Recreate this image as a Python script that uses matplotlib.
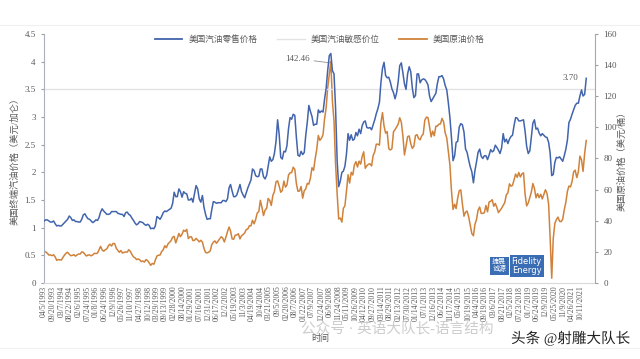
import matplotlib
matplotlib.use("Agg")
import matplotlib.pyplot as plt
import matplotlib.patheffects as pe
from matplotlib.lines import Line2D
import pandas as pd
import numpy as np

plt.rcParams['font.family'] = ['Liberation Serif', 'Noto Sans CJK SC', 'DejaVu Sans']

# monthly values, 1993-04 .. 2022-02
gasoline = [
    1.12, 1.14, 1.14, 1.12, 1.10, 1.10, 1.12, 1.07, 1.03,                  # 1993 (Apr-Dec)
    1.04, 1.03, 1.03, 1.06, 1.09, 1.12, 1.15, 1.21, 1.18, 1.13, 1.14, 1.11,  # 1994
    1.11, 1.10, 1.10, 1.15, 1.23, 1.25, 1.20, 1.16, 1.15, 1.12, 1.09, 1.11,  # 1995
    1.14, 1.13, 1.18, 1.28, 1.34, 1.30, 1.27, 1.24, 1.24, 1.25, 1.29, 1.29,  # 1996
    1.29, 1.29, 1.26, 1.25, 1.24, 1.24, 1.20, 1.27, 1.28, 1.24, 1.22, 1.17,  # 1997
    1.13, 1.08, 1.05, 1.07, 1.11, 1.10, 1.09, 1.06, 1.04, 1.06, 1.04, 0.98,  # 1998
    0.99, 0.98, 1.03, 1.20, 1.18, 1.15, 1.20, 1.27, 1.30, 1.29, 1.31, 1.33,  # 1999
    1.35, 1.44, 1.64, 1.56, 1.56, 1.70, 1.65, 1.55, 1.65, 1.62, 1.61, 1.50,  # 2000
    1.50, 1.53, 1.46, 1.62, 1.76, 1.70, 1.52, 1.46, 1.58, 1.37, 1.24, 1.15,  # 2001
    1.16, 1.16, 1.32, 1.47, 1.46, 1.44, 1.45, 1.45, 1.45, 1.49, 1.49, 1.47,  # 2002
    1.52, 1.72, 1.78, 1.66, 1.56, 1.56, 1.59, 1.68, 1.78, 1.65, 1.59, 1.54,  # 2003
    1.63, 1.72, 1.79, 1.86, 2.06, 2.03, 1.94, 1.92, 1.93, 2.06, 2.06, 1.92,  # 2004
    1.88, 1.95, 2.11, 2.28, 2.20, 2.23, 2.34, 2.56, 2.95, 2.69, 2.27, 2.24,  # 2005
    2.38, 2.37, 2.48, 2.79, 2.99, 2.96, 3.05, 3.03, 2.63, 2.31, 2.29, 2.38,  # 2006
    2.32, 2.36, 2.66, 2.91, 3.21, 3.10, 3.01, 2.85, 2.87, 2.87, 3.13, 3.08,  # 2007
    3.11, 3.09, 3.32, 3.52, 3.84, 4.11, 4.15, 3.84, 3.78, 3.17, 2.21, 1.74,  # 2008
    1.84, 2.00, 2.02, 2.11, 2.33, 2.70, 2.58, 2.68, 2.58, 2.60, 2.72, 2.66,  # 2009
    2.78, 2.70, 2.84, 2.91, 2.93, 2.81, 2.80, 2.81, 2.77, 2.86, 2.95, 3.06,  # 2010
    3.15, 3.27, 3.62, 3.88, 3.99, 3.75, 3.71, 3.72, 3.63, 3.51, 3.44, 3.33,  # 2011
    3.44, 3.65, 3.93, 3.98, 3.80, 3.60, 3.50, 3.78, 3.91, 3.82, 3.52, 3.35,  # 2012
    3.39, 3.78, 3.78, 3.62, 3.67, 3.69, 3.68, 3.64, 3.58, 3.38, 3.28, 3.33,  # 2013
    3.38, 3.43, 3.60, 3.73, 3.73, 3.75, 3.69, 3.57, 3.49, 3.26, 2.99, 2.63,  # 2014
    2.21, 2.30, 2.54, 2.56, 2.82, 2.88, 2.86, 2.73, 2.42, 2.36, 2.22, 2.10,  # 2015
    2.01, 1.81, 2.03, 2.19, 2.36, 2.42, 2.29, 2.25, 2.30, 2.30, 2.23, 2.31,  # 2016
    2.41, 2.37, 2.39, 2.49, 2.45, 2.40, 2.34, 2.44, 2.70, 2.55, 2.60, 2.52,  # 2017
    2.60, 2.65, 2.67, 2.85, 2.99, 2.98, 2.93, 2.93, 2.94, 2.95, 2.74, 2.47,  # 2018
    2.34, 2.39, 2.62, 2.89, 2.95, 2.78, 2.80, 2.71, 2.66, 2.70, 2.67, 2.64,  # 2019
    2.63, 2.54, 2.35, 1.94, 1.96, 2.18, 2.27, 2.26, 2.28, 2.24, 2.20, 2.30,  # 2020
    2.42, 2.59, 2.90, 2.96, 3.05, 3.13, 3.21, 3.25, 3.25, 3.38, 3.49, 3.38,  # 2021
    3.41, 3.70,                                                              # 2022 (Jan-Feb)
]

crude = [
    20.3, 19.9, 19.1, 17.9, 18.0, 17.5, 18.1, 16.7, 14.5,                  # 1993
    15.0, 14.8, 14.7, 16.4, 17.9, 19.1, 19.7, 18.4, 17.5, 17.7, 18.1, 17.2,  # 1994
    18.0, 18.6, 18.5, 19.9, 19.7, 18.4, 17.3, 17.9, 18.0, 17.4, 18.0, 19.0,  # 1995
    18.9, 19.1, 21.3, 23.5, 21.2, 20.4, 21.3, 21.9, 23.9, 24.9, 23.7, 25.4,  # 1996
    25.2, 22.2, 21.0, 19.7, 20.8, 19.2, 19.6, 19.9, 19.8, 21.3, 20.2, 18.3,  # 1997
    16.7, 16.1, 15.0, 15.4, 14.9, 13.7, 14.1, 13.4, 15.0, 14.4, 12.9, 11.3,  # 1998
    12.5, 12.0, 14.7, 17.3, 17.8, 17.9, 20.1, 21.3, 23.9, 22.6, 25.0, 26.1,  # 1999
    27.2, 29.4, 29.9, 25.7, 28.8, 31.8, 29.7, 31.3, 33.9, 33.1, 34.4, 28.5,  # 2000
    29.6, 29.6, 27.2, 27.4, 28.6, 27.6, 26.4, 27.4, 26.2, 22.2, 19.6, 19.3,  # 2001
    19.7, 20.7, 24.5, 26.2, 27.0, 25.5, 26.9, 28.4, 29.7, 28.8, 26.3, 29.4,  # 2002
    32.9, 35.9, 33.5, 28.3, 28.1, 30.7, 30.8, 31.6, 28.3, 30.3, 31.1, 32.1,  # 2003
    34.3, 34.7, 36.7, 36.7, 40.3, 38.0, 40.7, 44.9, 45.9, 53.1, 48.5, 43.3,  # 2004
    46.8, 48.0, 54.3, 53.0, 49.8, 56.3, 58.7, 65.0, 65.6, 62.3, 58.3, 59.4,  # 2005
    65.5, 61.6, 62.9, 69.4, 70.8, 70.9, 74.4, 73.0, 63.8, 58.9, 59.1, 62.0,  # 2006
    54.5, 59.3, 60.4, 64.0, 63.5, 67.5, 74.1, 72.4, 79.9, 85.8, 94.8, 91.7,  # 2007
    93.0, 95.4, 105.4, 112.6, 125.4, 133.9, 142.46, 116.7, 104.1, 76.6, 57.3, 41.1,  # 2008
    41.7, 39.1, 47.9, 49.6, 59.0, 69.6, 64.2, 71.1, 69.4, 75.7, 78.0, 74.5,  # 2009
    78.3, 76.4, 81.2, 84.3, 73.7, 75.3, 76.3, 76.6, 75.2, 81.9, 84.3, 89.2,  # 2010
    89.2, 88.6, 102.9, 109.5, 100.9, 96.3, 97.3, 86.3, 85.5, 86.3, 97.2, 98.6,  # 2011
    100.3, 102.2, 106.2, 103.3, 94.7, 82.3, 87.9, 94.1, 94.5, 89.5, 86.5, 87.9,  # 2012
    94.8, 95.3, 92.9, 92.0, 94.5, 95.8, 104.6, 106.6, 106.3, 100.5, 93.9, 97.6,  # 2013
    94.6, 100.8, 100.8, 102.1, 102.2, 105.8, 103.6, 96.5, 93.2, 84.4, 75.8, 59.3,  # 2014
    47.2, 50.6, 47.8, 54.5, 59.3, 59.8, 50.9, 42.9, 45.5, 46.2, 42.4, 37.2,  # 2015
    31.7, 30.3, 37.6, 40.8, 46.7, 48.8, 44.7, 44.7, 45.2, 49.8, 45.7, 52.0,  # 2016
    52.5, 53.5, 49.3, 51.1, 48.5, 45.2, 46.6, 48.0, 49.8, 51.6, 56.6, 57.9,  # 2017
    63.7, 62.2, 62.7, 66.3, 70.0, 67.9, 71.0, 68.1, 70.2, 70.8, 57.0, 49.5,  # 2018
    51.4, 55.0, 58.2, 63.9, 60.8, 54.7, 57.4, 54.8, 57.0, 54.0, 57.0, 59.9,  # 2019
    57.5, 50.5, 29.2, 3.0, 28.6, 38.3, 40.7, 42.3, 39.6, 39.4, 41.0, 47.0,   # 2020
    52.0, 59.0, 62.3, 61.7, 65.2, 71.4, 72.5, 67.7, 71.6, 81.5, 79.2, 71.7,  # 2021
    83.2, 91.6,                                                              # 2022
]

sensitive_level = 3.5
first_week = "1993-04-05"
label_step_days = 168      # one date label every 24 weeks
n_labels = 63

dates = pd.date_range("1993-04-01", periods=len(gasoline), freq="MS") + pd.Timedelta(days=4)
tick_dates = pd.date_range(first_week, periods=n_labels, freq=f"{label_step_days}D")
tick_labels = [f"{d.month:02d}/{d.day}/{d.year}" for d in tick_dates]

blue = "#4264ad"
orange = "#d0823a"
grid_gray = "#e3e3e3"
text_gray = "#595959"

fig = plt.figure(figsize=(6.4, 3.59), dpi=100)
ax = fig.add_axes([0.069, 0.212, 0.861, 0.693])
ax2 = ax.twinx()

# faint frame lines of the original screenshot
fig.add_artist(Line2D([0, 1], [0.93, 0.93], transform=fig.transFigure, color="#f0f0f0", lw=0.8))
fig.add_artist(Line2D([0, 1], [0.03, 0.03], transform=fig.transFigure, color="#f0f0f0", lw=0.8))

ax.axhline(sensitive_level, color=grid_gray, lw=1, zorder=1)
ax.plot([], [], color=blue, lw=1.3, label="美国汽油零售价格")
ax.plot([], [], color=grid_gray, lw=1, label="美国汽油敏感价位")
ax.plot([], [], color=orange, lw=1.3, label="美国原油价格")

ax2.plot(dates, crude, color=orange, lw=1.1, zorder=2)
ax.plot(dates, gasoline, color=blue, lw=1.1, zorder=3)
ax.set_zorder(ax2.get_zorder() + 1)
ax.patch.set_visible(False)

ax.set_ylim(0, 4.5)
ax2.set_ylim(0, 160)
ax.set_xlim(pd.Timestamp(first_week), pd.Timestamp("2022-07-29"))

ax.set_yticks(np.arange(0, 4.51, 0.5))
ax.set_yticklabels(["0", "0.5", "1", "1.5", "2", "2.5", "3", "3.5", "4", "4.5"])
ax2.set_yticks(np.arange(0, 161, 20))
ax.set_xticks(tick_dates)
ax.set_xticklabels(tick_labels, rotation=90, fontsize=5.5, color=text_gray)

for a in (ax, ax2):
    a.spines["top"].set_visible(False)
    a.tick_params(axis="y", labelsize=6.5, labelcolor=text_gray, color="#a0a0a0", length=2.5, width=0.8)
ax.tick_params(axis="x", length=0, pad=2)
ax.spines["left"].set_color("#a8b0c0")
ax.spines["right"].set_visible(False)
ax2.spines["left"].set_visible(False)
ax2.spines["bottom"].set_visible(False)
ax2.spines["right"].set_color("#a8a8a8")
ax.spines["bottom"].set_color("#d9d9d9")
ax.spines["bottom"].set_linestyle((0, (1, 1)))

ax.set_ylabel("美国终端汽油价格（美元/加仑）", fontsize=6.7, color=text_gray, labelpad=4)
ax2.set_ylabel("美国原油价格（美元/桶）", fontsize=6.7, color=text_gray, labelpad=0)
fig.text(0.50, 0.05, "时间", fontsize=6.5, color=text_gray, ha="center")

ax.legend(loc="upper center", bbox_to_anchor=(0.5, 1.025), ncol=3, frameon=False,
          fontsize=6.2, labelcolor=text_gray, handlelength=3.2, handletextpad=0.7,
          columnspacing=2.3)

peak_i = int(np.argmax(crude))
ax2.annotate(f"{crude[peak_i]:.2f}", xy=(dates[peak_i], crude[peak_i] - 1),
             xytext=(-15, 3), textcoords="offset points", fontsize=6.5, color=text_gray,
             va="center", ha="right",
             arrowprops=dict(arrowstyle="-", color="#909090", lw=0.6, shrinkA=1, shrinkB=0))
ax.annotate(f"{gasoline[-1]:.2f}", xy=(dates[-1], gasoline[-1]), xytext=(-17, 0),
            textcoords="offset points", fontsize=6.5, color=text_gray, va="center")

# watermarks
fig.text(0.78, 0.26, "捷晟\n诚源", fontsize=5, color="white", ha="center", va="center",
         linespacing=1.0, bbox=dict(boxstyle="square,pad=0.35", fc="#3a6db3", ec="none"))
fig.text(0.823, 0.26, "Fidelity\nEnergy", fontsize=6, color="white", ha="center", va="center",
         family="DejaVu Sans", linespacing=1.0,
         bbox=dict(boxstyle="square,pad=0.25", fc="#3a6db3", ec="none"))
fig.text(0.47, 0.085, "公众号 · 英语大队长-语言结构", fontsize=10.5, color="#c4c4c4", ha="left",
         va="center", alpha=0.85)
fig.text(0.985, 0.058, "头条 @射雕大队长", fontsize=10.5, color="#222222", ha="right", va="center",
         path_effects=[pe.withStroke(linewidth=2.5, foreground="white")])

fig.savefig("out.png", dpi=100)
